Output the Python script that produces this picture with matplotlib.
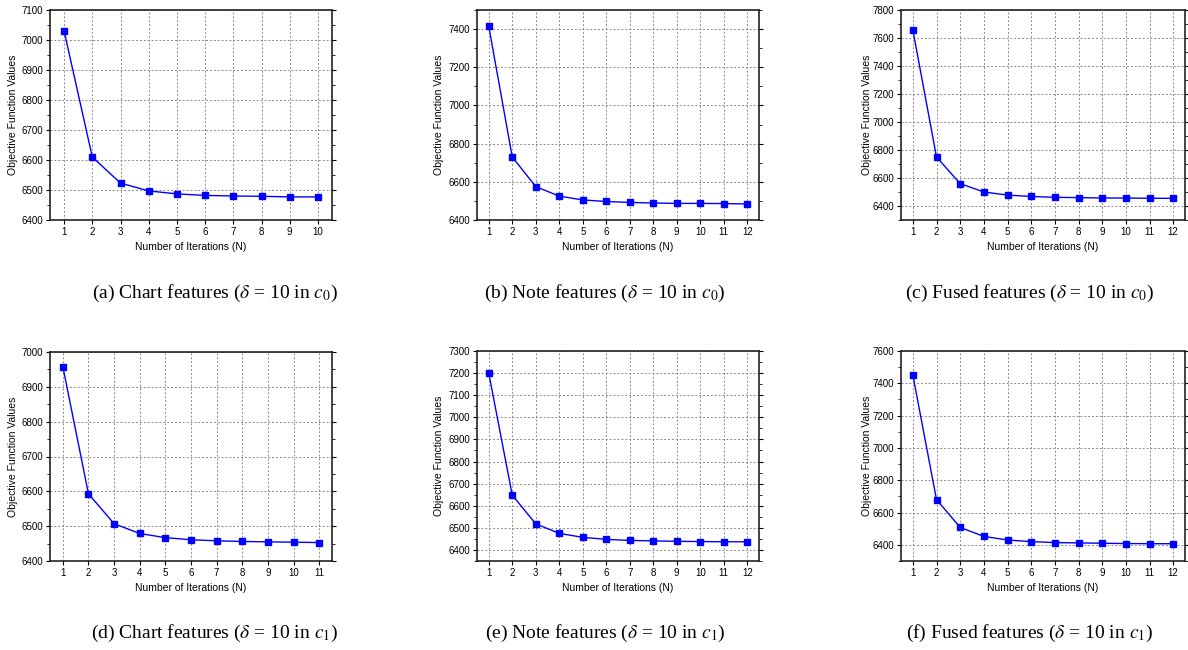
import matplotlib
matplotlib.use("Agg")
import matplotlib.pyplot as plt
from matplotlib.ticker import MultipleLocator, FixedLocator
import numpy as np

W, H = 1188, 650

# objective values
chart_c0 = [7030, 6610, 6523, 6497, 6487, 6482, 6480, 6479, 6477, 6477]
note_c0 = [7415, 6730, 6575, 6525, 6505, 6497, 6492, 6489, 6487, 6487, 6486, 6484]
fused_c0 = [7658, 6750, 6560, 6500, 6478, 6468, 6462, 6460, 6457, 6457, 6455, 6455]
chart_c1 = [6958, 6593, 6507, 6479, 6467, 6461, 6458, 6456, 6455, 6454, 6453]
note_c1 = [7200, 6648, 6518, 6475, 6457, 6448, 6443, 6441, 6439, 6438, 6437, 6437]
fused_c1 = [7452, 6680, 6508, 6452, 6430, 6420, 6414, 6412, 6410, 6408, 6407, 6407]

captions = [
    r"(a) Chart features ($\delta$ = 10 in $c_0$)",
    r"(b) Note features ($\delta$ = 10 in $c_0$)",
    r"(c) Fused features ($\delta$ = 10 in $c_0$)",
    r"(d) Chart features ($\delta$ = 10 in $c_1$)",
    r"(e) Note features ($\delta$ = 10 in $c_1$)",
    r"(f) Fused features ($\delta$ = 10 in $c_1$)",
]

# (series, ylim, major step, minor step)
panels = [
    (chart_c0, (6400, 7100), 100, 50),
    (note_c0, (6400, 7500), 200, 100),
    (fused_c0, (6300, 7800), 200, 100),
    (chart_c1, (6400, 7000), 100, 50),
    (note_c1, (6350, 7300), 100, 50),
    (fused_c1, (6300, 7600), 200, 100),
]

# pixel boxes: left, top, right, bottom
boxes = [
    (50, 10, 332, 220),
    (477, 10, 759, 220),
    (901, 10, 1185, 220),
    (50, 352, 332, 561),
    (477, 351, 759, 561),
    (901, 351, 1185, 561),
]
cap_x = [215, 605, 1030, 215, 605, 1030]
cap_y = [293, 293, 293, 633, 633, 633]
ylab_x = [13, 439, 867, 13, 439, 867]

plt.rcParams["font.family"] = ["Liberation Sans", "DejaVu Sans"]
plt.rcParams["mathtext.fontset"] = "stix"

fig = plt.figure(figsize=(W / 100, H / 100), dpi=100)

for i, ((vals, ylim, step, mstep), (l, t, r, b)) in enumerate(zip(panels, boxes)):
    ax = fig.add_axes([l / W, 1 - b / H, (r - l) / W, (b - t) / H])
    n = np.arange(1, len(vals) + 1)
    ax.plot(n, vals, color="#0000ff", lw=1.0, marker="s", ms=4.5,
            mec="#0000ff", mfc="#0000ff", zorder=3)
    ax.set_xlim(0.5, len(vals) + 0.5)
    ax.set_ylim(*ylim)
    ax.set_xticks(n)
    majors = np.arange(6400, ylim[1] + 1, step)
    ax.yaxis.set_major_locator(FixedLocator(majors))
    ax.yaxis.set_minor_locator(MultipleLocator(mstep))
    ax.tick_params(axis="both", which="major", labelsize=7, length=3,
                   width=0.8, direction="out", pad=2)
    ax.tick_params(axis="y", which="minor", length=2, width=0.6,
                   direction="out", right=True)
    ax.tick_params(axis="y", which="major", right=True)
    ax.grid(True, which="major", color="#8a8a8a", lw=0.7,
            linestyle=(0, (2, 2)))
    for s in ax.spines.values():
        s.set_linewidth(1.2)
        s.set_color("#222222")
    fig.text(ylab_x[i] / W, 1 - ((t + b) / 2) / H, "Objective Function Values",
             rotation=90, ha="center", va="center", fontsize=7.5)
    fig.text(((l + r) / 2) / W, 1 - (b + 27) / H, "Number of Iterations (N)",
             ha="center", va="center", fontsize=7.5)
    fig.text(cap_x[i] / W, 1 - cap_y[i] / H, captions[i], ha="center",
             va="center", fontsize=14, family=["Liberation Serif"])

fig.savefig("out.png", dpi=100)
